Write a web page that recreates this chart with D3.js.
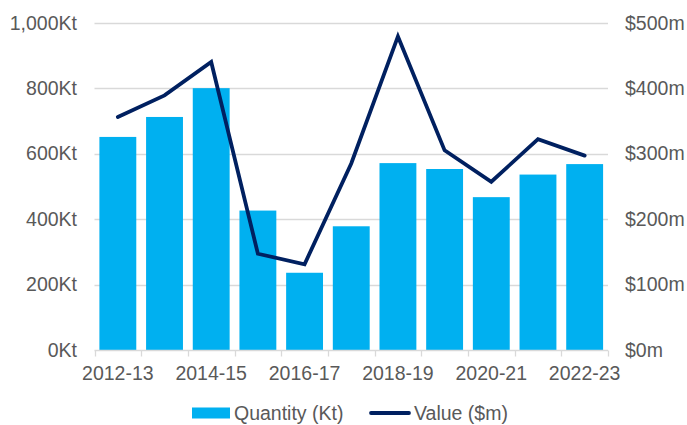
<!DOCTYPE html>
<html>
<head>
<meta charset="utf-8">
<script src="https://cdn.jsdelivr.net/npm/d3@7"></script>
<style>
  body { margin: 0; background: #fff; }
  svg text { font-family: "Liberation Sans", Arial, sans-serif; fill: #595959; }
</style>
</head>
<body>
<div id="chart"></div>
<script>
var width = 687, height = 425;

// data
var years = ["2012-13", "2013-14", "2014-15", "2015-16", "2016-17", "2017-18",
             "2018-19", "2019-20", "2020-21", "2021-22", "2022-23"];
var quantity = [651, 712, 800, 426, 236, 378, 571, 553, 467, 536, 568];   // Kt
var value = [356, 389, 440, 147, 131, 285, 479, 305, 257, 322, 297];      // $m
var leftTicks = [0, 200, 400, 600, 800, 1000];
var rightTicks = [0, 100, 200, 300, 400, 500];

var barColor = "#00b0f0";
var lineColor = "#002060";
var gridColor = "#d9d9d9";
var fontSize = "19.5px";

var plot = {left: 94.5, right: 608, top: 22.7, bottom: 350};

var svg = d3.select("#chart").append("svg")
    .attr("width", width)
    .attr("height", height);

var x = d3.scaleBand().domain(years).range([plot.left, plot.right]);
var xBar = d3.scaleBand().domain(years).range([plot.left, plot.right])
    .paddingInner(0.21).paddingOuter(0.105);
var yLeft = d3.scaleLinear().domain([0, 1000]).range([plot.bottom, plot.top]);
var yRight = d3.scaleLinear().domain([0, 500]).range([plot.bottom, plot.top]);

// gridlines
svg.append("g").selectAll("line")
    .data(leftTicks.filter(function(d){ return d > 0; }))
    .enter().append("line")
    .attr("x1", plot.left).attr("x2", plot.right)
    .attr("y1", function(d){ return Math.round(yLeft(d)) + 0.5; })
    .attr("y2", function(d){ return Math.round(yLeft(d)) + 0.5; })
    .style("stroke", gridColor).style("stroke-width", 1.3);

// left axis labels
svg.append("g").selectAll("text")
    .data(leftTicks)
    .enter().append("text")
    .attr("x", 77)
    .attr("y", function(d){ return yLeft(d); })
    .attr("dy", "0.35em")
    .attr("text-anchor", "end")
    .style("font-size", fontSize)
    .text(function(d){ return d3.format(",")(d) + "Kt"; });

// right axis labels
svg.append("g").selectAll("text")
    .data(rightTicks)
    .enter().append("text")
    .attr("x", 625)
    .attr("y", function(d){ return yRight(d); })
    .attr("dy", "0.35em")
    .attr("text-anchor", "start")
    .style("font-size", fontSize)
    .text(function(d){ return "$" + d + "m"; });

// bars
svg.append("g").selectAll("rect")
    .data(quantity)
    .enter().append("rect")
    .attr("x", function(d, i){ return xBar(years[i]); })
    .attr("width", xBar.bandwidth())
    .attr("y", function(d){ return yLeft(d); })
    .attr("height", function(d){ return yLeft(0) - yLeft(d); })
    .style("fill", barColor);

// x axis line and ticks at category boundaries
var base = Math.round(plot.bottom) + 0.5;
svg.append("line")
    .attr("x1", plot.left).attr("x2", plot.right)
    .attr("y1", base).attr("y2", base)
    .style("stroke", gridColor).style("stroke-width", 1.3);
var bounds = years.map(function(d){ return x(d); }).concat([plot.right]);
svg.append("g").selectAll("line")
    .data(bounds)
    .enter().append("line")
    .attr("x1", function(d){ return Math.round(d) + 0.5; })
    .attr("x2", function(d){ return Math.round(d) + 0.5; })
    .attr("y1", base).attr("y2", base + 6)
    .style("stroke", gridColor).style("stroke-width", 1.3);

// x labels, every other year
svg.append("g").selectAll("text")
    .data(years.filter(function(d, i){ return i % 2 === 0; }))
    .enter().append("text")
    .attr("x", function(d){ return x(d) + x.bandwidth() / 2; })
    .attr("y", 373)
    .attr("dy", "0.35em")
    .attr("text-anchor", "middle")
    .style("font-size", fontSize)
    .text(function(d){ return d; });

// value line
var line = d3.line()
    .x(function(d, i){ return x(years[i]) + x.bandwidth() / 2; })
    .y(function(d){ return yRight(d); });

svg.append("path")
    .datum(value)
    .attr("d", line)
    .style("fill", "none")
    .style("stroke", lineColor)
    .style("stroke-width", 3.8)
    .style("stroke-linejoin", "miter")
    .style("stroke-linecap", "round");

// legend
var legendY = 413;
svg.append("rect")
    .attr("x", 192).attr("y", legendY - 5.5)
    .attr("width", 38).attr("height", 11)
    .style("fill", barColor);
svg.append("text")
    .attr("x", 234).attr("y", legendY)
    .attr("dy", "0.35em")
    .style("font-size", fontSize)
    .text("Quantity (Kt)");
svg.append("line")
    .attr("x1", 371).attr("x2", 409)
    .attr("y1", legendY).attr("y2", legendY)
    .style("stroke", lineColor)
    .style("stroke-width", 3.8)
    .style("stroke-linecap", "round");
svg.append("text")
    .attr("x", 414).attr("y", legendY)
    .attr("dy", "0.35em")
    .style("font-size", fontSize)
    .text("Value ($m)");
</script>
</body>
</html>
